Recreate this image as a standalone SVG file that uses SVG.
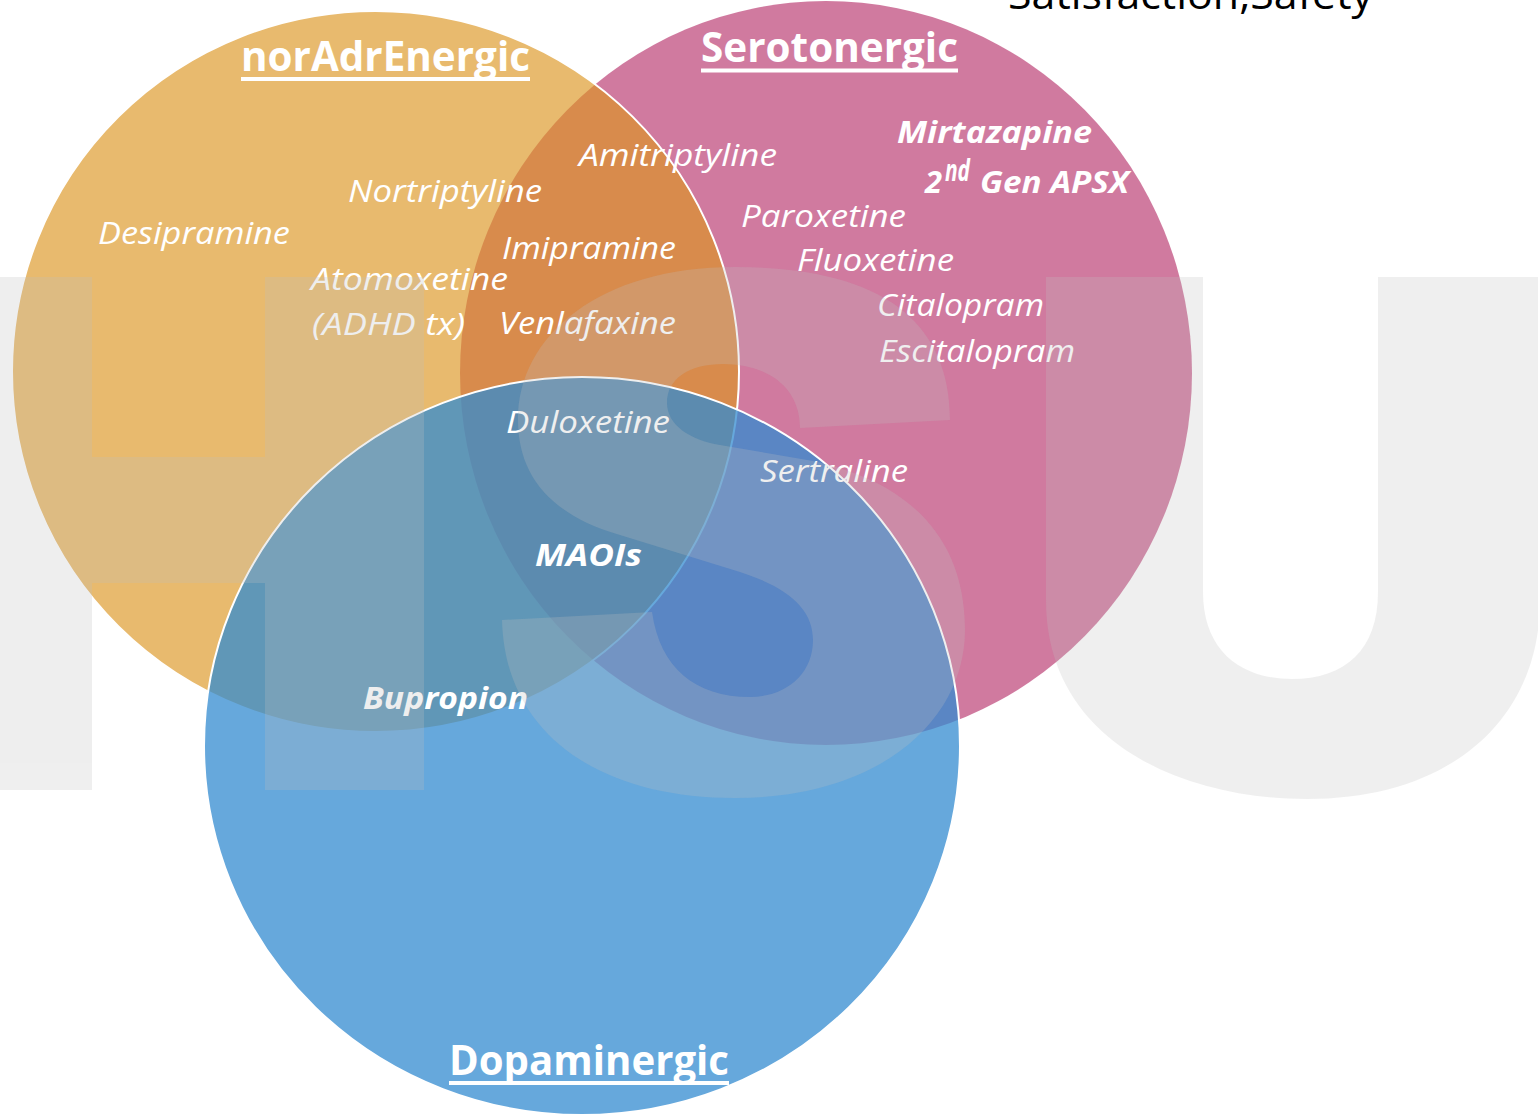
<svg xmlns="http://www.w3.org/2000/svg" width="1538" height="1117" viewBox="0 0 1538 1117">
  <style>
    .set-stroke { stroke: #ffffff; stroke-width: 2; }
    .title { font-family: 'Open Sans', 'Liberation Sans', sans-serif; font-weight: 700; font-size: 42px; fill: #ffffff; }
    .uline { fill: #ffffff; }
    .drug { font-family: 'Open Sans', 'Liberation Sans', sans-serif; font-style: italic; font-size: 31px; fill: #ffffff; }
    .drug.strong { font-weight: 700; }
    .note { font-family: 'Open Sans', 'Liberation Sans', sans-serif; font-size: 41px; fill: #000000; }
    .mark { fill: #bfbfbf; }
  </style>

  <rect x="0" y="0" width="1538" height="1117" fill="#ffffff"/>

  <!-- caption running off the top edge -->
  <text class="note" x="1008" y="9" textLength="365" lengthAdjust="spacingAndGlyphs">Satisfaction,Safety</text>

  <!-- Serotonergic set (bottom layer) -->
  <g id="set-serotonergic">
    <ellipse cx="826" cy="373" rx="366" ry="372" fill="#c04e7f" fill-opacity="0.75"/>
    <text class="title" x="701" y="62" textLength="257" lengthAdjust="spacingAndGlyphs">Serotonergic</text>
    <rect class="uline" x="701" y="68.5" width="257" height="4"/>
  </g>

  <!-- Noradrenergic set -->
  <g id="set-noradrenergic">
    <ellipse class="set-stroke" cx="375.5" cy="371.5" rx="363.5" ry="360.5" fill="#dc9520" fill-opacity="0.65"/>
    <text class="title" x="241" y="71" textLength="289" lengthAdjust="spacingAndGlyphs">norAdrEnergic</text>
    <rect class="uline" x="241" y="77" width="289" height="4"/>
  </g>

  <!-- Dopaminergic set (top layer) -->
  <g id="set-dopaminergic">
    <ellipse class="set-stroke" cx="582" cy="746" rx="378" ry="369" fill="#338bd0" fill-opacity="0.75"/>
    <text class="title" x="449" y="1075" textLength="280" lengthAdjust="spacingAndGlyphs">Dopaminergic</text>
    <rect class="uline" x="449" y="1081" width="280" height="4"/>
  </g>

  <!-- drug labels -->
  <g id="drug-labels">
    <text class="drug" x="98" y="244" textLength="192" lengthAdjust="spacingAndGlyphs">Desipramine</text>
    <text class="drug" x="348" y="202" textLength="194" lengthAdjust="spacingAndGlyphs">Nortriptyline</text>
    <text class="drug" x="579" y="166" textLength="198" lengthAdjust="spacingAndGlyphs">Amitriptyline</text>
    <text class="drug" x="502" y="259" textLength="174" lengthAdjust="spacingAndGlyphs">Imipramine</text>
    <text class="drug" x="311" y="290" textLength="197" lengthAdjust="spacingAndGlyphs">Atomoxetine</text>
    <text class="drug" x="312" y="335" textLength="153" lengthAdjust="spacingAndGlyphs">(ADHD tx)</text>
    <text class="drug" x="499" y="334" textLength="177" lengthAdjust="spacingAndGlyphs">Venlafaxine</text>
    <text class="drug" x="506" y="433" textLength="164" lengthAdjust="spacingAndGlyphs">Duloxetine</text>
    <text class="drug" x="760" y="482" textLength="148" lengthAdjust="spacingAndGlyphs">Sertraline</text>
    <text class="drug" x="741" y="227" textLength="165" lengthAdjust="spacingAndGlyphs">Paroxetine</text>
    <text class="drug" x="797" y="271" textLength="157" lengthAdjust="spacingAndGlyphs">Fluoxetine</text>
    <text class="drug" x="877" y="316" textLength="167" lengthAdjust="spacingAndGlyphs">Citalopram</text>
    <text class="drug" x="879" y="362" textLength="196" lengthAdjust="spacingAndGlyphs">Escitalopram</text>
    <text class="drug strong" x="535" y="566" textLength="107" lengthAdjust="spacingAndGlyphs">MAOIs</text>
    <text class="drug strong" x="363" y="709" textLength="165" lengthAdjust="spacingAndGlyphs">Bupropion</text>
    <text class="drug strong" x="897" y="143" textLength="195" lengthAdjust="spacingAndGlyphs">Mirtazapine</text>
    <text class="drug strong" x="925" y="193">2</text>
    <text class="drug strong" x="945" y="181" font-size="19" textLength="25" lengthAdjust="spacingAndGlyphs">nd</text>
    <text class="drug strong" x="980" y="193" textLength="149" lengthAdjust="spacingAndGlyphs">Gen APSX</text>
  </g>

  <!-- faint watermark letters laid over everything -->
  <g id="watermark" opacity="0.25">
    <!-- H -->
    <rect class="mark" x="-67" y="277" width="159" height="513"/>
    <rect class="mark" x="265" y="277" width="159" height="513"/>
    <rect class="mark" x="92" y="457" width="173" height="126"/>
    <!-- S -->
    <path class="mark" d="M950,420 C950,320 880,267 735,267 C600,267 518,335 518,420 C518,475 550,515 620,535 L740,572 C790,588 813,610 813,640 C813,675 785,697 750,697 C695,697 660,668 652,612 L502,620 C505,735 600,798 735,798 C880,798 965,720 965,630 C965,530 900,480 813,461 L720,445 C690,440 667,425 667,403 C667,378 690,364 723,364 C765,364 800,385 800,428 Z"/>
    <!-- U -->
    <path class="mark" d="M1046,277 H1203 V592 C1203,650 1240,679 1292,679 C1345,679 1378,650 1378,592 V277 H1540 V600 C1540,720 1450,799 1307,799 C1180,799 1046,740 1046,600 Z"/>
  </g>
</svg>
